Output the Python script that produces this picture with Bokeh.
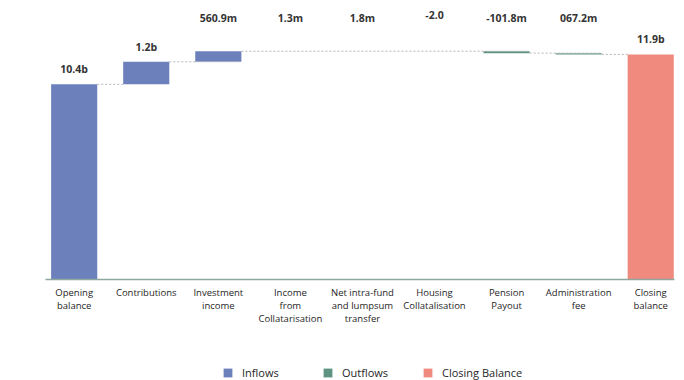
import numpy as np
from bokeh.plotting import figure
from bokeh.layouts import column
from bokeh.models import ColumnDataSource, Range1d, FixedTicker, Legend, LegendItem
from bokeh.core.properties import value
from bokeh.embed import file_html
from bokeh.resources import INLINE

# ---- data (values in billions) ----
categories = ["Opening\nbalance", "Contributions", "Investment\nincome",
              "Income\nfrom\nCollatarisation", "Net intra-fund\nand lumpsum\ntransfer",
              "Housing\nCollatalisation", "Pension\nPayout", "Administration\nfee",
              "Closing\nbalance"]
opening_balance = 10.4
changes = [1.2, 0.5609, 0.0013, 0.0018, -0.000000002, -0.1018, -0.0672]
value_labels = ["10.4b", "1.2b", "560.9m", "1.3m", "1.8m", "-2.0", "-101.8m", "067.2m", "11.9b"]
series_names = ["Inflows", "Outflows", "Closing Balance"]
colors = {"Inflows": "#6c80bb", "Outflows": "#5f9381", "Closing Balance": "#f08a7e"}

# ---- waterfall geometry ----
n = len(categories)
xs = list(range(n))
bottoms, tops, kinds = [], [], []
bottoms.append(0.0); tops.append(opening_balance); kinds.append("Inflows")
running = opening_balance
for c in changes:
    new = running + c
    bottoms.append(min(running, new)); tops.append(max(running, new))
    kinds.append("Inflows" if c >= 0 else "Outflows")
    running = new
bottoms.append(0.0); tops.append(running); kinds.append("Closing Balance")

levels = [opening_balance]
r = opening_balance
for c in changes:
    r += c
    levels.append(r)

BAR_W = 0.64
Y_END = 14.6
big = [abs(tops[i] - bottoms[i]) >= 1.0 for i in range(n)]

p = figure(width=684, height=350, output_backend="svg", toolbar_location=None,
           x_range=Range1d(-0.398, 8.33), y_range=Range1d(0, Y_END),
           min_border_left=45, min_border_right=10, min_border_top=5, min_border_bottom=71)
p.outline_line_color = None
p.grid.visible = False
p.yaxis.visible = False
p.background_fill_color = "white"
p.border_fill_color = "white"

renderers = {}
for name in series_names:
    idx = [i for i in range(n) if kinds[i] == name]
    src = ColumnDataSource(dict(x=[xs[i] for i in idx], top=[tops[i] for i in idx],
                                bottom=[bottoms[i] for i in idx]))
    renderers[name] = p.vbar(x="x", top="top", bottom="bottom", width=BAR_W, source=src,
                             fill_color=colors[name], line_color=None)

# connectors (run across thin bars, stop at tall ones)
seg_x0, seg_x1 = [], []
for i in range(n - 1):
    seg_x0.append(xs[i] + BAR_W / 2)
    seg_x1.append(xs[i + 1] + (BAR_W / 2 if not big[i + 1] else -BAR_W / 2))
seg = ColumnDataSource(dict(x0=seg_x0, x1=seg_x1, y=levels))
p.segment(x0="x0", y0="y", x1="x1", y1="y", source=seg,
          line_color="#b5b5b5", line_dash="2 2", line_width=1)

lab_big = ColumnDataSource(dict(x=[xs[i] for i in range(n) if big[i]],
                                y=[tops[i] for i in range(n) if big[i]],
                                t=[value_labels[i] for i in range(n) if big[i]]))
lab_small = ColumnDataSource(dict(x=[xs[i] for i in range(n) if not big[i]],
                                  y=[Y_END] * sum(1 for b in big if not b),
                                  t=[value_labels[i] for i in range(n) if not big[i]]))
common = dict(text="t", text_align="center", text_font=value("Open Sans"),
              text_font_style="bold", text_font_size="10.5px", text_color="#333333")
p.text(x="x", y="y", source=lab_big, text_baseline="bottom", y_offset=-8, **common)
p.text(x="x", y="y", source=lab_small, text_baseline="top", y_offset=5, **common)

p.xaxis.ticker = FixedTicker(ticks=xs)
p.xaxis.major_label_overrides = {i: categories[i] for i in xs}
p.xaxis.major_tick_line_color = None
p.xaxis.minor_tick_line_color = None
p.xaxis.axis_line_color = "#8fa89e"
p.xaxis.axis_line_width = 1.5
p.xaxis.major_label_text_font = "Open Sans"
p.xaxis.major_label_text_font_size = "9.5px"
p.xaxis.major_label_text_color = "#262626"
p.xaxis.major_label_text_line_height = 1.0
p.xaxis.major_label_standoff = 0

# legend in a strip below the chart
leg = figure(width=684, height=30, output_backend="svg", toolbar_location=None,
             x_range=Range1d(0, 1), y_range=Range1d(0, 1),
             min_border_left=0, min_border_right=0, min_border_top=0, min_border_bottom=0)
leg.outline_line_color = None
leg.grid.visible = False
leg.axis.visible = False
leg_renderers = {}
for name in series_names:
    # legend swatch source (kept outside the visible range of the strip)
    leg_renderers[name] = leg.vbar(x=[-5], top=[-5], width=0.1, fill_color=colors[name], line_color=None)

legend = Legend(items=[LegendItem(label=nm, renderers=[leg_renderers[nm]]) for nm in series_names],
                orientation="horizontal", location=(177, 0),
                glyph_width=11, glyph_height=11, label_standoff=9, label_width=80,
                spacing=0, padding=0, margin=0, label_height=14,
                label_text_font="Open Sans", label_text_font_size="11px",
                label_text_color="#262626", border_line_color=None,
                background_fill_alpha=0)
leg.add_layout(legend, "center")

layout = column(p, leg, spacing=0)
open("out.html", "w").write(file_html(layout, INLINE))
